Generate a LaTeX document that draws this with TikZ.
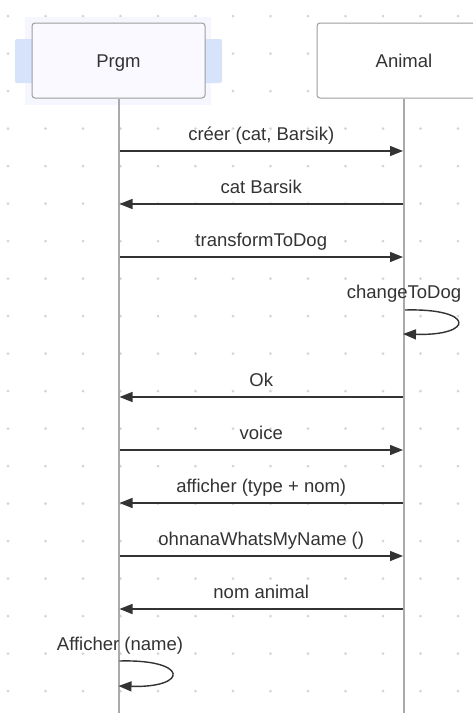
\documentclass[tikz,border=0pt]{standalone}
\usepackage{fontspec}
\setmainfont{Liberation Sans}
\usetikzlibrary{arrows.meta}
\definecolor{txt}{HTML}{333333}
\definecolor{dotc}{HTML}{D4D4D4}
\definecolor{lifec}{HTML}{AAAAAA}
\definecolor{boxborder}{HTML}{9E9E9E}
\definecolor{hlfill}{HTML}{F5F6FE}
\definecolor{sidefill}{HTML}{D7E2FB}
\definecolor{prgmfill}{HTML}{F9F9FF}
\tikzset{
  actorbox/.style={draw=boxborder, line width=1pt, rounded corners=3pt,
    minimum height=75pt, text=txt, font=\fontsize{18.5}{22}\selectfont,
    text height=13.2pt, text depth=0pt},
  lifeline/.style={draw=lifec, line width=2pt},
  msg/.style={draw=txt, line width=1.4pt, -{Triangle[length=13pt,width=10pt]}},
  lbl/.style={text=txt, font=\fontsize{18.5}{22}\selectfont, anchor=base, inner sep=0pt},
}
\begin{document}
\begin{tikzpicture}[x=1pt,y=-1pt]
\useasboundingbox[fill=white] (0,0) rectangle (473,713);
% dot grid
\foreach \i in {0,...,12}{
  \foreach \j in {0,...,18}{
    \fill[dotc] (8+37.5*\i,16+37.5*\j) circle (1.5pt);
  }
}
% highlight around Prgm
\fill[hlfill] (25,17) rectangle (211,105);
\fill[sidefill, rounded corners=2pt] (15,39) rectangle (33,83);
\fill[sidefill, rounded corners=2pt] (204,39) rectangle (222,83);
% actors
\node[actorbox, fill=prgmfill, minimum width=173pt] (prgm) at (118.5,60.5) {Prgm};
\node[actorbox, fill=white, minimum width=174pt] (animal) at (404,60.5) {Animal};
% lifelines
\coordinate (pend) at (118.5,713);
\coordinate (aend) at (404,713);
\draw[lifeline] (prgm.south) -- (pend);
\draw[lifeline] (animal.south) -- (aend);
% message anchor points
\foreach \n/\y in {1/151,2/204,3/257,5/397,6/450,7/503,8/556,9/609}{
  \coordinate (p\n) at (119.5,\y);
  \coordinate (a\n) at (403,\y);
}
\draw[msg] (p1) -- node[lbl, midway, yshift=10.5pt] {créer (cat, Barsik)} (a1);
\draw[msg] (a2) -- node[lbl, midway, yshift=10.5pt] {cat Barsik} (p2);
\draw[msg] (p3) -- node[lbl, midway, yshift=10.5pt] {transformToDog} (a3);
% self loop on Animal
\coordinate (la1) at (405,310);
\coordinate (la2) at (403,334);
\node[lbl] (lbl4) at (404,298) {changeToDog};
\draw[msg] (la1) .. controls (475,308) and (475,336) .. (la2);
\draw[msg] (a5) -- node[lbl, midway, yshift=10.5pt] {Ok} (p5);
\draw[msg] (p6) -- node[lbl, midway, yshift=10.5pt] {voice} (a6);
\draw[msg] (a7) -- node[lbl, midway, yshift=10.5pt] {afficher (type + nom)} (p7);
\draw[msg] (p8) -- node[lbl, midway, yshift=10.5pt] {ohnanaWhatsMyName ()} (a8);
\draw[msg] (a9) -- node[lbl, midway, yshift=10.5pt] {nom animal} (p9);
% self loop on Prgm
\coordinate (lp1) at (119.5,661);
\coordinate (lp2) at (118.5,686);
\node[lbl] (lbl10) at (120,650) {Afficher (name)};
\draw[msg] (lp1) .. controls (189,659) and (189,688) .. (lp2);
\end{tikzpicture}
\end{document}
